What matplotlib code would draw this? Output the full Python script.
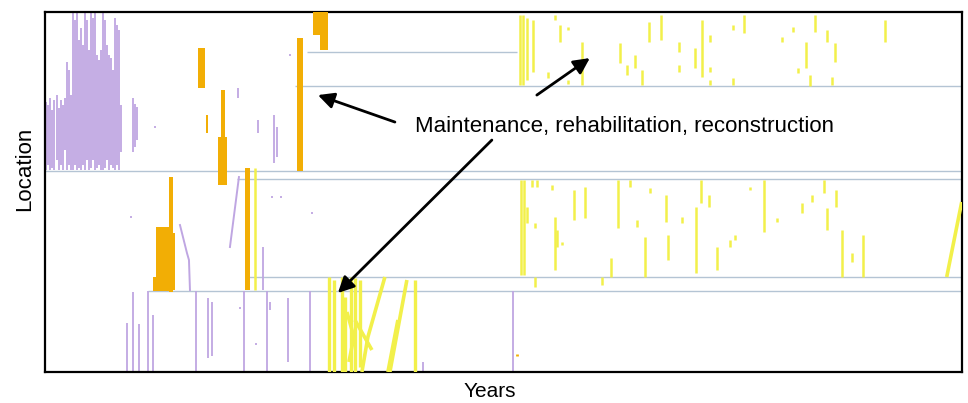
import matplotlib
matplotlib.use("Agg")
import matplotlib.pyplot as plt

plt.rcParams["font.family"] = ["Liberation Sans", "DejaVu Sans"]

# time step (x) and location measured from the top of the network (y)
T_MAX = 917
LOC_MAX = 360

# section boundaries: location, first and last time step
bound_loc = [40, 74, 159, 167, 265, 279]
bound_start = [262, 250, 0, 192, 203, 103]
bound_end = [472, 917, 917, 917, 917, 917]

# purple treatments (time, top location, bottom location)
purple_t = [1, 3, 5, 7, 9, 12, 14, 16, 18, 20, 22, 24, 26, 28, 30, 32, 34, 36, 38,
            40, 42, 44, 46, 48, 50, 52, 54, 56, 58, 60, 62, 64, 66, 68, 70, 72, 74, 76,
            88, 90, 92, 110, 193, 213, 229, 232, 245, 218, 86, 227, 236, 267,
            103, 151, 199, 222, 265, 468,
            82, 88, 94, 108, 163, 167, 243, 225, 195, 211, 378]
purple_top = [90, 93, 86, 98, 88, 83, 96, 88, 93, 86, 50, 58, 83, 0, 8, 0, 28, 16, 33,
              0, 8, 38, 0, 6, 0, 43, 48, 38, 0, 8, 33, 43, 46, 58, 6, 13, 18, 93,
              86, 92, 95, 114, 76, 108, 103, 115, 42, 235, 204, 184, 184, 200,
              279, 279, 279, 279, 279, 279,
              311, 280, 312, 303, 286, 290, 286, 290, 295, 331, 350]
purple_bot = [158, 153, 158, 156, 158, 148, 158, 153, 158, 138, 158, 153, 158, 158, 153, 158, 156, 158, 153,
              158, 148, 158, 156, 148, 158, 156, 153, 158, 158, 156, 148, 158, 153, 156, 158, 153, 158, 140,
              140, 135, 128, 116, 86, 121, 151, 145, 44, 278, 206, 186, 186, 202,
              360, 360, 360, 360, 360, 360,
              360, 360, 360, 360, 346, 344, 350, 298, 297, 333, 360]

# purple slanted treatments
purple_path_t = [[194, 185], [135, 142, 144, 145]]
purple_path_loc = [[165, 235], [213, 241, 248, 278]]

# orange treatments as blocks (first step, last step, top, bottom)
orange_t0 = [153, 161, 176, 173, 252, 268, 275, 200, 124, 111, 108, 128]
orange_t1 = [160, 163, 180, 182, 258, 275, 283, 205, 128, 124, 126, 130]
orange_top = [36, 103, 78, 125, 26, 0, 0, 156, 165, 215, 265, 221]
orange_bot = [76, 121, 125, 173, 159, 23, 38, 278, 280, 279, 279, 278]
orange_dot = [(472, 342, 344)]

# yellow treatments (time, top, bottom)
yellow_t = [475, 478, 482, 488, 510, 515, 523, 537, 503, 523, 575, 582, 590, 597, 604,
            616, 634, 634, 650, 657, 665, 665, 665, 688, 688, 699, 737, 748, 753, 761,
            765, 770, 782, 790, 787, 840,
            476, 479, 482, 487, 492, 490, 507, 510, 512, 517, 490, 529, 540, 557, 566,
            573, 585, 592, 605, 600, 621, 623, 637, 651, 656, 664, 672, 685, 690, 705,
            719, 732, 757, 767, 779, 782, 791, 797, 807, 818, 210]
yellow_top = [3, 3, 6, 8, 3, 13, 15, 30, 60, 68, 31, 53, 43, 58, 10,
              3, 30, 53, 36, 8, 23, 55, 68, 13, 66, 3, 25, 15, 56, 30,
              63, 3, 18, 31, 65, 8,
              168, 168, 195, 168, 168, 211, 173, 205, 218, 230, 265, 178, 175, 265, 246,
              168, 168, 208, 176, 225, 183, 223, 205, 195, 168, 183, 235, 228, 223, 175,
              168, 206, 191, 183, 168, 196, 178, 218, 241, 223, 156]
yellow_bot = [73, 73, 68, 60, 8, 30, 18, 73, 66, 72, 51, 63, 56, 73, 30,
              28, 40, 60, 56, 65, 30, 60, 73, 18, 73, 21, 30, 20, 61, 56,
              74, 20, 30, 50, 73, 30,
              263, 263, 211, 175, 175, 216, 178, 258, 235, 233, 275, 208, 206, 273, 265,
              216, 175, 215, 181, 265, 210, 248, 211, 261, 191, 195, 258, 235, 228, 178,
              220, 210, 201, 190, 181, 218, 195, 265, 250, 265, 278]

# yellow braid in the bottom section (time, top, bottom)
braid_t = [284, 289, 297, 300, 306, 310, 315, 370]
braid_top = [265, 268, 265, 285, 265, 266, 268, 268]
braid_bot = [360, 360, 360, 360, 360, 360, 355, 360]

# yellow slanted treatments
yellow_path_t = [[902, 917], [340, 323, 317], [353, 343], [362, 345], [310, 327], [302, 309, 304]]
yellow_path_loc = [[265, 190], [265, 325, 360], [308, 360], [268, 360], [308, 338], [300, 325, 350]]

label = "Maintenance, rehabilitation, reconstruction"
label_pos = (580, 114)
arrow_tip = [(273, 83), (545, 46), (293, 281)]
arrow_tail = [(350, 110), (492, 83), (447, 128)]

PURPLE = "#bfa6e2"
ORANGE = "#f2ae05"
YELLOW = "#f2f04a"
BOUND = "#b4c4d4"

fig = plt.figure(figsize=(9.68, 4.03), dpi=100)
ax = fig.add_axes([0.0465, 0.077, 0.947, 0.893])

for loc, t0, t1 in zip(bound_loc, bound_start, bound_end):
    ax.hlines(loc, t0, t1, color=BOUND, lw=1.0, zorder=1)

ax.vlines(purple_t, purple_top, purple_bot, color=PURPLE, lw=1.3, zorder=2)
for pt, pl in zip(purple_path_t, purple_path_loc):
    ax.plot(pt, pl, color=PURPLE, lw=1.4, zorder=2)

for t0, t1, top, bot in zip(orange_t0, orange_t1, orange_top, orange_bot):
    ax.bar(t0, bot - top, width=t1 - t0, bottom=top, align="edge",
           color=ORANGE, lw=0, zorder=3)
for t, top, bot in orange_dot:
    ax.vlines(t, top, bot, color=ORANGE, lw=2, zorder=3)

ax.vlines(yellow_t, yellow_top, yellow_bot, color=YELLOW, lw=1.8, zorder=3)
ax.vlines(braid_t, braid_top, braid_bot, color=YELLOW, lw=2.4, zorder=3)
for yt, yl in zip(yellow_path_t, yellow_path_loc):
    ax.plot(yt, yl, color=YELLOW, lw=2.6, zorder=3, solid_capstyle="butt")

ax.text(label_pos[0], label_pos[1], label, fontsize=16, ha="center", va="center", zorder=5)
for tip, tail in zip(arrow_tip, arrow_tail):
    ax.annotate("", xy=tip, xytext=tail,
                arrowprops=dict(arrowstyle="-|>", color="black", lw=2,
                                mutation_scale=24, shrinkA=0, shrinkB=0),
                zorder=5)

ax.set_xlim(0, T_MAX)
ax.set_ylim(LOC_MAX, 0)
ax.set_xticks([])
ax.set_yticks([])
for s in ax.spines.values():
    s.set_linewidth(1.6)
ax.set_xlabel("Years", fontsize=15)
ax.set_ylabel("Location", fontsize=16)
ax.xaxis.set_label_coords(0.485, -0.028)
ax.yaxis.set_label_coords(-0.011, 0.564)

fig.savefig("out.png", dpi=100)
